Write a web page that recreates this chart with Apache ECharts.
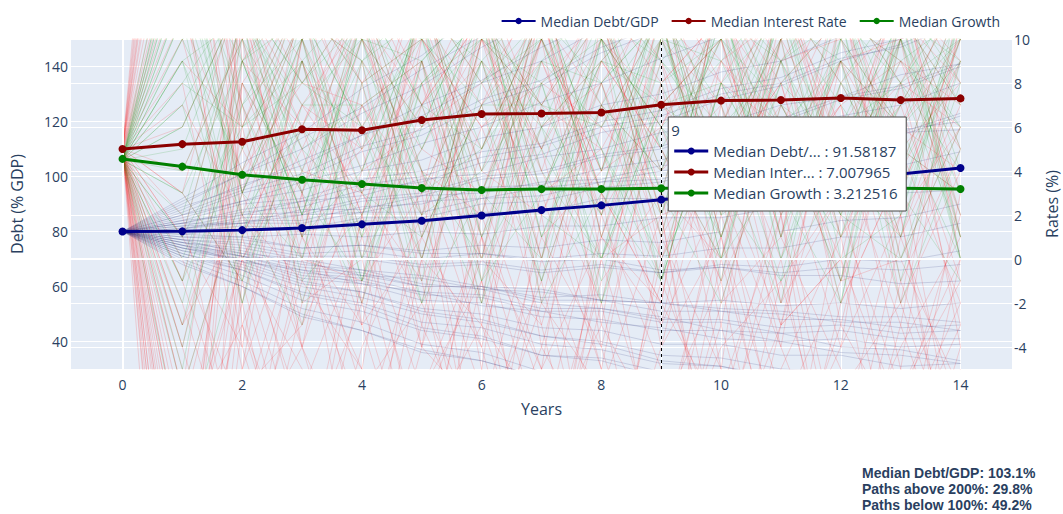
<!DOCTYPE html>
<html>
<head>
<meta charset="utf-8">
<script src="https://cdn.jsdelivr.net/npm/echarts@6/dist/echarts.min.js"></script>
<style>
  html, body { margin: 0; padding: 0; background: #fff; }
  #chart { width: 1063px; height: 514px; }
</style>
</head>
<body>
<div id="chart"></div>
<script>
// Projection horizon (years)
const years = [0, 1, 2, 3, 4, 5, 6, 7, 8, 9, 10, 11, 12, 13, 14];

// Medians across all simulated paths
const medianDebt = [80, 80.05, 80.5, 81.3, 82.6, 83.9, 85.8, 87.8, 89.5, 91.58187, 93.8, 96.1, 98.5, 100.9, 103.1];
const medianInterest = [5.0, 5.22, 5.33, 5.9, 5.85, 6.32, 6.59, 6.61, 6.66, 7.007965, 7.2, 7.23, 7.32, 7.23, 7.3];
const medianGrowth = [4.55, 4.2, 3.83, 3.6, 3.41, 3.23, 3.14, 3.18, 3.18, 3.212516, 3.22, 3.22, 3.22, 3.22, 3.18];

// Axis ticks
const yearTicks = [0, 2, 4, 6, 8, 10, 12, 14];
const debtTicks = [40, 60, 80, 100, 120, 140];
const rateTicks = [-4, -2, 0, 2, 4, 6, 8, 10];

// Hovered year and simulation summary
const hoverYear = 9;
const shareAbove200 = 29.8;
const shareBelow100 = 49.2;

// Individual simulated paths: interest rate (%)
const interestPaths = [
  [5, 22, 3, 9, -2, 7, 11, 0, 8, 12, 4, -3, 9, 6, 10],
  [5, -12, 8, 1, 10, 4, -4, 7, 11, 2, 9, 6, 12, -1, 5],
  [5, 14, 11, 5, -3, 9, 2, 10, 4, 13, -2, 7, 3, 10, 1],
  [5, -25, -1, 12, 6, 0, 10, 5, -5, 8, 11, 2, 9, 4, 12],
  [5, 30, 6, -4, 8, 12, 3, 11, 7, -1, 5, 10, -3, 8, 6],
  [5, 8, -5, 10, 3, 7, 13, -2, 9, 5, 0, 12, 6, 1, 9],
  [5, -6, 12, 7, 11, -1, 6, 9, 2, 10, 7, -4, 11, 5, -2],
  [5, 19, 2, -1, 9, 5, 10, 4, 12, 0, 8, 13, 3, 9, 7],
  [5, -18, 9, 13, 0, 11, -3, 8, 6, 3, 12, 4, 7, -5, 11],
  [5, 11, 4, 8, 12, 2, 7, 13, 1, 9, -3, 10, 5, 12, 3],
  [5, 26, 10, 2, 5, -4, 12, 3, 10, 7, 4, 8, -1, 6, 13],
  [5, -9, 0, 6, 13, 8, 1, -5, 11, 4, 10, 1, 12, 8, -3],
  [5, 3, 13, 9, 2, 10, 5, 11, 3, -2, 13, 6, 0, 11, 8],
  [5, 17, 7, -3, 7, 3, 9, 0, 13, 11, 1, 9, 10, 2, 6],
  [5, -3, 5, 11, 4, 13, -1, 6, 8, 1, 6, 12, 4, 13, 0],
  [5, 24, -3, 4, 10, 6, 8, 12, -4, 7, 10, -2, 8, 3, 10],
  [5, -15, 11, 0, -1, 12, 4, 2, 9, 12, 3, 7, 13, -2, 4],
  [5, 9, 6, 12, 8, -3, 11, 7, 5, -3, 9, 11, 1, 7, 12],
  [5, 35, 1, 7, 3, 9, 0, 12, 10, 6, -1, 5, 9, 10, -4],
  [5, -30, 8, 3, 11, 1, 13, 4, -2, 10, 12, 8, -2, 4, 9],
  [5, 6, 12, -2, 6, 11, 7, -3, 7, 4, 7, 0, 11, 12, 5],
  [5, 13, -4, 10, 1, 5, 3, 10, 12, 8, -5, 13, 5, -3, 11],
  [5, -1, 9, 6, 12, 0, 10, 1, 4, 13, 5, 3, 7, 9, 2],
  [5, 16, 3, 13, 5, 8, -2, 13, 0, 6, 11, 7, 2, 13, 8],
  [5, 21, 7, 1, -5, 10, 6, 8, 11, 2, 3, 10, 12, 0, 6],
  [5, -20, 13, 8, 7, 2, 12, -4, 6, 11, 8, -3, 6, 10, 13],
  [5, 10, 0, 5, 11, 13, 1, 9, 3, -2, 13, 9, 1, 5, 3],
  [5, 28, 10, -4, 4, 6, 9, 5, 13, 9, 2, 12, 8, 11, 7],
  [5, -7, 4, 11, 9, -4, 5, 11, 2, 7, 10, 1, 13, 3, 10],
  [5, 1, 11, 3, 13, 7, 11, 2, 8, 0, 6, 13, 4, 7, -1],
  [5, 12, -2, 9, 2, 11, 4, 10, -3, 12, 9, 5, -4, 12, 9],
  [5, -4, 8, 12, 10, 3, 13, 6, 9, 5, -1, 11, 10, 6, 4],
  [5, 25, 5, 0, 7, 9, -5, 12, 11, 1, 12, 3, 7, -2, 12],
  [5, -14, 12, 6, -2, 12, 8, 3, 5, 10, 4, 8, 11, 9, 5],
  [5, 7, 2, 10, 12, 4, 2, 13, 1, 8, 11, -2, 3, 13, 1],
  [5, 32, 9, 4, 3, -2, 10, 7, 12, 3, 0, 10, 12, 5, 8],
  [5, -10, 6, 13, 8, 10, 6, -1, 7, 13, 8, 6, -1, 10, 11],
  [5, 15, 13, 1, 11, 7, 0, 10, 4, 6, 12, 2, 9, 1, 7],
  [5, -22, 1, 7, 5, 13, 11, 5, 10, -4, 7, 12, 5, 8, 13],
  [5, 4, 10, 12, -3, 1, 7, 11, 3, 11, 1, 9, 13, 11, 2],
  [5, -8, -3, -12, 2, -6, -1, -14, 0, -9, 3, -4, -11, 1, -7],
  [5, -16, 1, -7, -13, 4, -10, -2, -6, 2, -12, -1, 3, -9, -3],
  [5, 2, -10, -1, -5, -14, 1, -8, 3, -11, -3, -13, -2, 4, -10],
  [5, -11, -5, 3, -9, 0, -12, 2, -13, -4, 1, -8, -6, -12, 0],
  [5, -4, -13, -6, 1, -8, -3, -11, -1, 3, -9, 2, -14, -5, -8],
  [5, -20, 0, -9, -2, -11, 3, -5, -10, -6, -14, -3, 0, -7, 2],
  [5, 0, -7, 2, -12, -3, -9, 1, -4, -13, 0, -10, -4, 2, -12],
  [5, -13, -2, -14, -4, 2, -6, -12, 1, -2, -7, 3, -9, -13, -4],
  [5, -6, 3, -4, -10, -7, 0, -3, -14, 1, -5, -12, 2, -6, -1],
  [5, -2, -11, 0, -7, -13, -5, -9, -3, -8, 2, -6, -12, -1, -9],
  [5, -18, -6, -3, 3, -1, -13, 0, -7, -12, -2, 1, -5, -10, 3],
  [5, 3, -1, -11, -8, 1, -4, -14, 2, -5, -11, -7, -1, 0, -6],
  [5, -9, -14, -2, 0, -10, 2, -6, -11, -1, -8, 0, -13, -3, -11],
  [5, -3, 2, -8, -14, -4, -7, 3, -5, -10, 1, -11, -3, -8, -2],
  [5, -14, -8, 1, -3, -12, -1, -10, 0, 2, -13, -5, 1, -11, -5],
  [5, 1, -4, -13, -1, 3, -11, -4, -9, -7, -1, -14, -8, 2, -13],
  [5, -10, 0, -5, -11, -6, 1, -13, -2, -14, -6, 2, -10, -4, 1],
  [5, -5, -12, 3, -6, -2, -8, -1, -12, 0, -10, -3, 0, -14, -7],
  [5, -24, -3, -10, 2, -9, -14, -5, 1, -3, 3, -9, -6, -2, -10],
  [5, -1, -9, -4, -13, 0, -3, -7, -8, -11, -4, -1, -11, -6, 0]
];

// Individual simulated paths: growth (%)
const growthPaths = [
  [4.5, 9, 2, 6, 11, 1, 7, 10, 3, -1, 8, 5, 11, 0, 6],
  [4.5, -3, 8, 3, -1, 9, 12, 4, 0, 10, 5, 12, 2, 7, 10],
  [4.5, 13, 5, 11, 6, -2, 3, 9, 12, 5, 0, 8, 5, 11, 1],
  [4.5, 1, 11, -2, 8, 10, 1, 6, 9, 12, 3, -1, 10, 4, 12],
  [4.5, 16, 6, 9, 0, 5, 11, -1, 7, 2, 11, 9, -2, 10, 3],
  [4.5, -6, 3, 10, 12, 7, 5, 12, -2, 8, 10, 2, 6, 12, 0],
  [4.5, 7, 12, 1, 4, 11, -1, 3, 10, 6, 1, 10, 12, 3, 9],
  [4.5, 11, -2, 7, 10, 0, 9, 6, 2, 11, 7, -1, 4, 9, 11],
  [4.5, 3, 9, 12, 0, 9, 12, 1, 7, 4, 12, 6, 9, -2, 5],
  [4.5, 14, 2, -3, 9, 12, 3, 10, 5, 0, 5, 11, 1, 8, 10],
  [4.5, -1, 10, 5, 2, 7, 10, 8, -1, 10, 9, 3, 12, 6, 0],
  [4.5, 8, 6, 12, 9, -2, 8, 11, 10, 3, -2, 7, 5, 11, 7],
  [4.5, 12, 0, 4, 12, 4, 0, 5, 11, 9, 6, 12, 0, 2, 11],
  [4.5, 5, 12, 8, 6, 10, 11, -2, 3, 12, 2, 4, 10, 12, 1],
  [4.5, -4, 7, 10, 1, 12, 5, 9, 8, -1, 12, 9, 3, 7, 12],
  [4.5, 15, 3, 0, 11, 3, 9, 2, 0, 7, 5, -2, 11, 9, 6],
  [4.5, 2, 11, 7, 7, 9, -2, 11, 11, 4, 10, 7, 2, 0, 8],
  [4.5, 10, 4, 11, 3, 1, 7, 7, 6, 11, -1, 12, 8, 5, 3],
  [4.5, 18, 9, 2, 10, 6, 12, 3, 9, 7, 8, 3, -2, 11, 10],
  [4.5, -9, 1, 9, 5, 11, 2, 12, 1, 10, 3, 11, 7, 3, -1],
  [4.5, 6, 12, 4, -2, 8, 10, 7, 11, 1, 12, 1, 10, 12, 4],
  [4.5, 0, 7, 12, 10, 2, 4, 12, 4, 12, 6, 9, 4, 1, 11],
  [4.5, 9, -1, 6, 3, 11, 9, 0, 10, 6, 3, 11, 12, 8, 12],
  [4.5, 4, 10, 1, 12, 7, -1, 9, 6, 10, 11, 5, 1, 10, 6],
  [4.5, 13, 3, 9, -1, 6, 12, 1, 8, 11, 1, 8, 11, -1, 9],
  [4.5, -2, 9, 2, 11, 12, 4, 8, 0, 7, 10, 12, 3, 10, 2],
  [4.5, 8, 12, 5, 7, 0, 10, 11, 5, -1, 8, 3, 9, 6, 11],
  [4.5, 16, 1, 11, 9, 4, -2, 6, 12, 9, 5, 10, -1, 12, 7],
  [4.5, 1, 6, 8, 12, 10, 7, -1, 10, 3, 12, 0, 6, 8, 1],
  [4.5, 11, 11, -1, 2, 8, 11, 10, 3, 12, 2, 9, 12, 2, 10],
  [4.5, 6, 12, 3, 9, 11, 1, 8, 10, -1, 8, 11, 4, 10, 0],
  [4.5, 12, 3, 10, -1, 8, 11, 5, 0, 9, 12, 1, 8, 3, 11],
  [4.5, -5, 9, 11, 6, 2, 9, 12, 7, 11, 0, 9, 11, 8, 4],
  [4.5, 15, 7, 0, 11, 10, 3, 0, 11, 5, 10, 6, -1, 11, 9],
  [4.5, 3, -1, 9, 12, 5, 11, 7, 2, 12, 4, 11, 9, 1, 12],
  [4.5, 9, 11, 6, 1, 12, 8, 10, 12, 2, 11, 0, 8, 12, 5],
  [4.5, -1, 5, 12, 8, -1, 11, 3, 9, 8, 1, 10, 12, 4, 10],
  [4.5, 14, 9, 2, 10, 9, 0, 12, 4, 10, 12, 7, 2, 11, 0],
  [4.5, 7, -2, 10, 4, 11, 12, 6, -2, 6, 9, 12, 10, 6, 9],
  [4.5, 10, 12, 8, 11, 3, 5, 11, 8, 11, 0, 4, 9, 12, 8]
];

// Individual simulated paths: debt (% of GDP)
const debtPaths = [
  [80, 76, 73, 68, 66, 61, 59, 54, 52, 49, 44, 43, 38, 37, 33],
  [80, 74, 69, 62, 58, 51, 48, 42, 39, 33, 31, 26, 25, 20, 19],
  [80, 78, 78, 74, 75, 72, 72, 69, 70, 66, 67, 64, 64, 61, 62],
  [80, 83, 83, 88, 88, 93, 94, 98, 99, 104, 105, 110, 111, 116, 117],
  [80, 85, 91, 95, 102, 106, 114, 118, 126, 130, 138, 142, 151, 155, 164],
  [80, 72, 66, 57, 53, 45, 42, 35, 33, 27, 26, 21, 20, 16, 16],
  [80, 79, 81, 80, 84, 83, 87, 87, 92, 92, 97, 98, 103, 104, 109],
  [80, 88, 97, 104, 115, 122, 134, 142, 154, 163, 176, 186, 200, 210, 225],
  [80, 75, 72, 67, 65, 60, 60, 55, 55, 51, 51, 48, 48, 45, 46],
  [80, 83, 88, 91, 97, 100, 107, 111, 118, 122, 130, 134, 143, 147, 156],
  [80, 70, 62, 52, 47, 39, 36, 29, 27, 21, 20, 15, 15, 11, 11],
  [80, 81, 83, 83, 87, 87, 92, 93, 98, 99, 105, 107, 113, 115, 122],
  [80, 77, 75, 71, 71, 68, 69, 66, 68, 65, 67, 65, 67, 66, 68],
  [80, 86, 94, 99, 109, 115, 126, 133, 145, 153, 166, 175, 189, 199, 214],
  [80, 73, 68, 61, 58, 52, 50, 45, 44, 39, 39, 35, 35, 31, 32],
  [80, 84, 90, 92, 99, 102, 109, 112, 120, 124, 132, 136, 145, 150, 159],
  [80, 76, 74, 70, 70, 67, 68, 65, 67, 65, 68, 67, 70, 69, 73],
  [80, 90, 101, 110, 123, 133, 147, 158, 173, 185, 201, 214, 231, 245, 263],
  [80, 71, 64, 55, 51, 44, 41, 35, 34, 29, 28, 24, 24, 20, 20],
  [80, 80, 82, 81, 85, 85, 90, 91, 96, 98, 104, 106, 113, 116, 123],
  [80, 78, 77, 74, 75, 73, 75, 74, 77, 76, 80, 80, 84, 85, 90],
  [80, 87, 95, 101, 111, 117, 128, 135, 147, 155, 167, 176, 189, 199, 213],
  [80, 74, 70, 63, 61, 55, 54, 49, 48, 44, 44, 40, 41, 38, 39],
  [80, 82, 86, 87, 92, 94, 100, 102, 108, 111, 118, 121, 129, 133, 141],
  [80, 69, 60, 49, 44, 36, 33, 27, 25, 20, 19, 15, 15, 11, 12],
  [80, 83, 87, 89, 95, 98, 105, 108, 116, 120, 128, 133, 142, 148, 158],
  [80, 77, 76, 72, 73, 70, 72, 70, 72, 71, 74, 74, 78, 78, 83],
  [80, 92, 105, 116, 132, 144, 161, 175, 193, 208, 228, 244, 265, 283, 306],
  [80, 75, 71, 65, 63, 58, 57, 52, 52, 48, 48, 45, 46, 43, 44],
  [80, 81, 84, 84, 89, 90, 96, 97, 103, 106, 112, 115, 122, 126, 134],
  [80, 72, 67, 60, 56, 50, 47, 42, 40, 35, 34, 30, 29, 25, 25],
  [80, 84, 86, 91, 93, 99, 101, 107, 110, 116, 119, 126, 129, 137, 141],
  [80, 77, 72, 70, 66, 64, 60, 59, 55, 54, 51, 50, 47, 47, 44],
  [80, 89, 96, 106, 115, 126, 135, 147, 157, 170, 181, 195, 208, 223, 237],
  [80, 71, 66, 58, 54, 47, 45, 39, 37, 32, 31, 27, 26, 22, 22],
  [80, 79, 78, 79, 78, 80, 79, 82, 82, 85, 85, 89, 90, 94, 95],
  [80, 75, 69, 66, 61, 58, 53, 51, 47, 45, 41, 40, 36, 35, 32],
  [80, 86, 91, 98, 104, 112, 118, 127, 134, 143, 151, 161, 170, 181, 191],
  [80, 73, 70, 64, 62, 57, 56, 51, 51, 47, 47, 43, 44, 41, 41],
  [80, 82, 83, 86, 87, 91, 92, 96, 98, 102, 105, 109, 112, 117, 120],
  [80, 68, 60, 50, 44, 37, 33, 27, 24, 19, 18, 14, 13, 10, 10],
  [80, 81, 85, 86, 91, 93, 99, 101, 107, 110, 117, 120, 128, 132, 140],
  [80, 76, 71, 69, 64, 63, 59, 58, 55, 54, 52, 51, 49, 49, 47],
  [80, 91, 101, 114, 125, 139, 151, 166, 180, 196, 211, 228, 244, 262, 280],
  [80, 74, 71, 66, 64, 60, 60, 56, 57, 54, 55, 53, 54, 52, 54]
];

const FONT = "'Open Sans', 'Noto Sans', sans-serif";
const INK = '#2a3f5f';
const pairs = (vals) => years.map((x, i) => [x, vals[i]]);

const NAME_DEBT = 'Median Debt/GDP';
const NAME_RATE = 'Median Interest Rate';
const NAME_GROWTH = 'Median Growth';
const COL_DEBT = '#00008b';
const COL_RATE = '#8b0000';
const COL_GROWTH = '#008000';

function pathSeries(list, color, yAxisIndex, z) {
  return list.map((p) => ({
    type: 'line',
    data: pairs(p),
    yAxisIndex,
    showSymbol: false,
    symbol: 'none',
    silent: true,
    z,
    lineStyle: { color, width: 1 },
    emphasis: { disabled: true },
    tooltip: { show: false }
  }));
}

const series = [];
// zero lines of the x axis and of the rate axis
series.push({
  type: 'line', data: [], yAxisIndex: 1, silent: true, z: 0,
  markLine: {
    silent: true, symbol: ['none', 'none'], label: { show: false },
    lineStyle: { color: '#fff', width: 2, type: 'solid' },
    data: [{ xAxis: 0 }, { yAxis: 0 }]
  }
});
series.push(...pathSeries(interestPaths, 'rgba(255,0,0,0.15)', 1, 1));
series.push(...pathSeries(growthPaths, 'rgba(0,150,0,0.15)', 1, 1));
series.push(...pathSeries(debtPaths, 'rgba(20,30,110,0.15)', 0, 1));

function medianSeries(name, vals, color, yAxisIndex) {
  return {
    name, type: 'line', data: pairs(vals), yAxisIndex,
    symbol: 'circle', symbolSize: 8, showSymbol: true, z: 5,
    itemStyle: { color }, lineStyle: { color, width: 3 },
    emphasis: { disabled: true }
  };
}
const debtMedian = medianSeries(NAME_DEBT, medianDebt, COL_DEBT, 0);
const rateMedian = medianSeries(NAME_RATE, medianInterest, COL_RATE, 1);
const growthMedian = medianSeries(NAME_GROWTH, medianGrowth, COL_GROWTH, 1);
// hover spike line at the selected year
growthMedian.markLine = {
  silent: true, symbol: ['none', 'none'], label: { show: false },
  data: [
    { xAxis: hoverYear, lineStyle: { color: '#fff', width: 1, type: 'solid' } },
    { xAxis: hoverYear, lineStyle: { color: '#000', width: 1, type: [3, 3] } }
  ]
};
series.push(debtMedian, rateMedian, growthMedian);

const tickFont = { color: INK, fontSize: 14, fontFamily: FONT };

const option = {
  animation: false,
  backgroundColor: '#fff',
  textStyle: { fontFamily: FONT },
  legend: {
    data: [NAME_DEBT, NAME_RATE, NAME_GROWTH],
    right: 58, top: 9,
    itemWidth: 34, itemHeight: 8, itemGap: 12,
    textStyle: { color: INK, fontSize: 14, fontFamily: FONT }
  },
  grid: {
    left: 71, right: 51, top: 39, bottom: 145,
    containLabel: false, outerBoundsMode: 'none',
    show: true, backgroundColor: '#e5ecf6', borderWidth: 0
  },
  xAxis: {
    type: 'value', min: -0.86, max: 14.86,
    name: 'Years', nameLocation: 'middle', nameGap: 32,
    nameTextStyle: { color: INK, fontSize: 16, fontFamily: FONT },
    axisLine: { show: false },
    axisTick: { show: false, customValues: yearTicks },
    axisLabel: { ...tickFont, margin: 8, customValues: yearTicks },
    splitLine: { show: true, lineStyle: { color: '#fff', width: 1 } }
  },
  yAxis: [
    {
      type: 'value', min: 30, max: 150, position: 'left',
      name: 'Debt (% GDP)', nameLocation: 'middle', nameGap: 46, nameRotate: 90,
      nameTextStyle: { color: INK, fontSize: 16, fontFamily: FONT },
      axisLine: { show: false },
      axisTick: { show: false, customValues: debtTicks },
      axisLabel: { ...tickFont, margin: 3, customValues: debtTicks },
      splitLine: { show: true, lineStyle: { color: '#fff', width: 1 } }
    },
    {
      type: 'value', min: -5, max: 10, position: 'right',
      name: 'Rates (%)', nameLocation: 'middle', nameGap: 32, nameRotate: 90,
      nameTextStyle: { color: INK, fontSize: 16, fontFamily: FONT },
      axisLine: { show: false },
      axisTick: { show: false, customValues: rateTicks },
      axisLabel: { ...tickFont, margin: 2, customValues: rateTicks },
      splitLine: { show: true, lineStyle: { color: '#fff', width: 1 } }
    }
  ],
  series
};

const chart = echarts.init(document.getElementById('chart'), null, { renderer: 'svg' });
chart.setOption(option);

// Unified hover box for the selected year and the summary annotation
const shortName = (n) => (n.length >= 15 ? n.slice(0, 12) + '...' : n);
const spikeX = chart.convertToPixel({ xAxisIndex: 0 }, hoverYear);
const boxX = spikeX + 7, boxY = 117, boxW = 238, boxH = 94;
const rows = [
  [NAME_DEBT, COL_DEBT, medianDebt[hoverYear]],
  [NAME_RATE, COL_RATE, medianInterest[hoverYear]],
  [NAME_GROWTH, COL_GROWTH, medianGrowth[hoverYear]]
];
const hoverFont = { fontSize: 15, fontFamily: FONT, fill: INK };
const graphics = [
  { type: 'rect', z: 100, shape: { x: boxX, y: boxY, width: boxW, height: boxH },
    style: { fill: '#fff', stroke: '#444', lineWidth: 1 } },
  { type: 'text', z: 101, x: boxX + 3, y: boxY + 13,
    style: { ...hoverFont, text: String(hoverYear), verticalAlign: 'middle' } }
];
rows.forEach(([name, color, v], i) => {
  const cy = boxY + 34 + i * 21;
  graphics.push(
    { type: 'line', z: 101, shape: { x1: boxX + 6, y1: cy, x2: boxX + 40, y2: cy },
      style: { stroke: color, lineWidth: 3 } },
    { type: 'circle', z: 102, shape: { cx: boxX + 23, cy, r: 3.5 }, style: { fill: color } },
    { type: 'text', z: 101, x: boxX + 45, y: cy,
      style: { ...hoverFont, text: shortName(name) + ' : ' + v, verticalAlign: 'middle' } }
  );
});
graphics.push({
  type: 'text', z: 101, left: 862, top: 465,
  style: {
    text: [
      'Median Debt/GDP: ' + medianDebt[medianDebt.length - 1].toFixed(1) + '%',
      'Paths above 200%: ' + shareAbove200.toFixed(1) + '%',
      'Paths below 100%: ' + shareBelow100.toFixed(1) + '%'
    ].join('\n'),
    fontSize: 14, fontWeight: 'bold', lineHeight: 16,
    fontFamily: "'Liberation Sans', Arial, sans-serif", fill: INK
  }
});
chart.setOption({ graphic: graphics });
</script>
</body>
</html>
